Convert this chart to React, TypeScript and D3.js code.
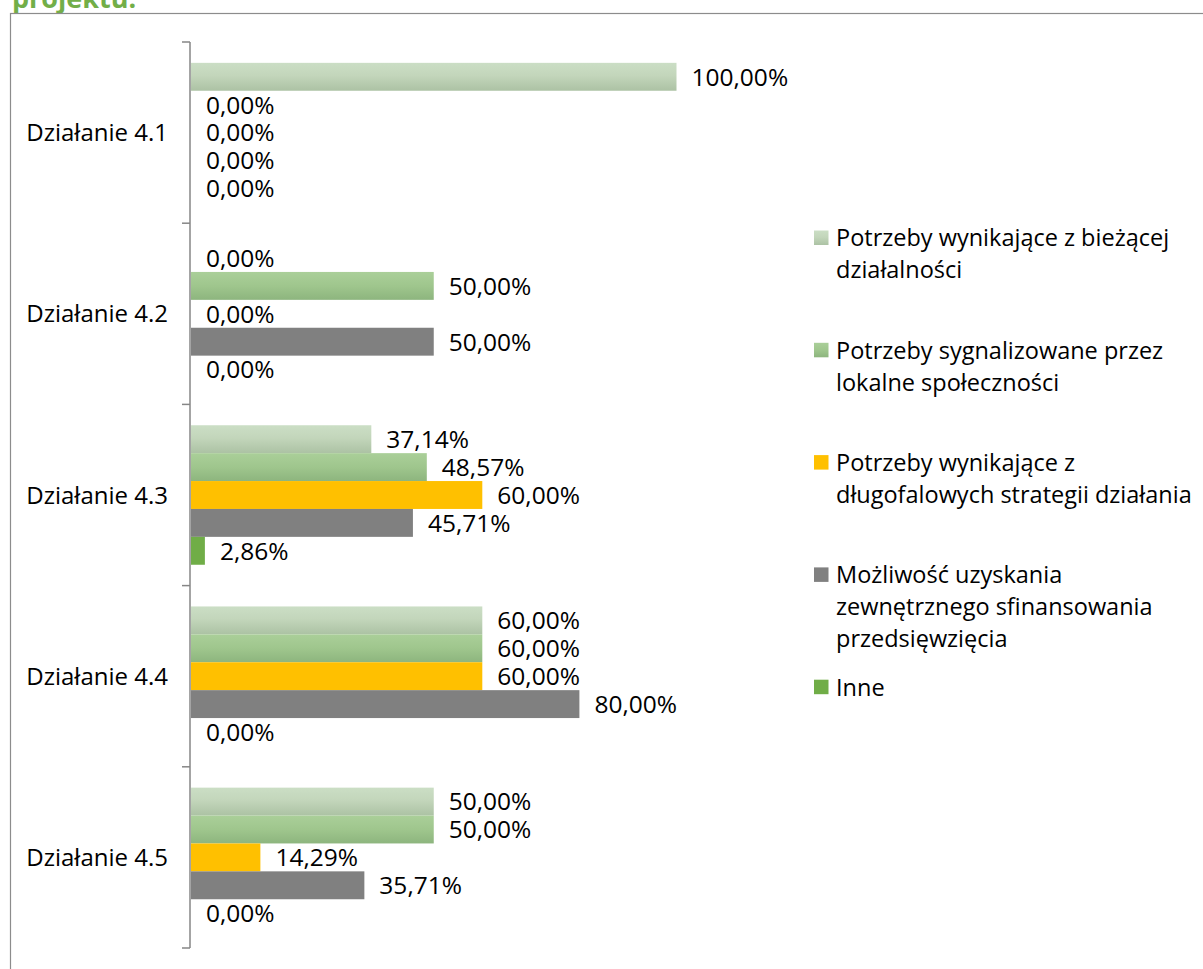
import React from 'react';
import * as d3 from 'd3';

const categories = ['Działanie 4.1', 'Działanie 4.2', 'Działanie 4.3', 'Działanie 4.4', 'Działanie 4.5'];

const seriesNames = [
  ['Potrzeby wynikające z bieżącej', 'działalności'],
  ['Potrzeby sygnalizowane przez', 'lokalne społeczności'],
  ['Potrzeby wynikające z', 'długofalowych strategii działania'],
  ['Możliwość uzyskania', 'zewnętrznego sfinansowania', 'przedsięwzięcia'],
  ['Inne'],
];

// values per series, in category order (percent)
const biezace = [100, 0, 37.14, 60, 50];
const lokalne = [0, 50, 48.57, 60, 50];
const strategie = [0, 0, 60, 60, 14.29];
const zewnetrzne = [0, 50, 45.71, 80, 35.71];
const inne = [0, 0, 2.86, 0, 0];

const seriesValues = [biezace, lokalne, strategie, zewnetrzne, inne];
const fills = ['url(#g-light)', 'url(#g-mid)', '#FFC000', '#808080', '#70AD47'];

const FONT = '"Open Sans", sans-serif';

export default function App() {
  const width = 1203;
  const height = 969;

  const y = d3.scaleBand<string>().domain(categories).range([42, 948]);
  const inner = d3
    .scaleBand<number>()
    .domain(d3.range(seriesValues.length))
    .range([0, y.bandwidth()])
    .paddingOuter(0.747);
  const x = d3.scaleLinear().domain([0, 100]).range([190, 675.5]);

  const fmt = (v: number) => v.toFixed(2).replace('.', ',') + '%';
  const boundaries = [...categories.map((c) => y(c)!), 948];

  return (
    <svg
      width={width}
      height={height}
      style={{ position: 'absolute', left: 0, top: 0, background: '#fff' }}
      fontFamily={FONT}
    >
      <defs>
        <linearGradient id="g-light" x1="0" y1="0" x2="0" y2="1">
          <stop offset="0%" stopColor="#CBDEC5" />
          <stop offset="45%" stopColor="#C3D6BB" />
          <stop offset="100%" stopColor="#ACC2A4" />
        </linearGradient>
        <linearGradient id="g-mid" x1="0" y1="0" x2="0" y2="1">
          <stop offset="0%" stopColor="#AACF99" />
          <stop offset="50%" stopColor="#9FC68D" />
          <stop offset="100%" stopColor="#8DB57E" />
        </linearGradient>
      </defs>

      {/* heading of the page above, partly hidden behind the chart frame */}
      <text x={12} y={8} fontSize={27} fontWeight="bold" fill="#72AE48">
        projektu.
      </text>
      <rect x={10.5} y={13.5} width={1200} height={970} fill="#fff" stroke="#8C8C8C" strokeWidth={1.2} />

      {seriesValues.map((vals, si) =>
        categories.map((c, ci) => {
          const v = vals[ci];
          const by = y(c)! + inner(si)!;
          const bh = inner.bandwidth();
          return (
            <g key={`${si}-${ci}`}>
              {v > 0 && (
                <rect x={x(0) + 1} y={by} width={x(v) - x(0)} height={bh} fill={fills[si]} />
              )}
              <text x={x(v) + 16} y={by + bh / 2} dy="0.36em" fontSize={24.5} fill="#000">
                {fmt(v)}
              </text>
            </g>
          );
        })
      )}

      <g stroke="#868686" strokeWidth={1.5}>
        <line x1={190} x2={190} y1={42} y2={948} />
        {boundaries.map((b, i) => (
          <line key={i} x1={182} x2={190} y1={b} y2={b} />
        ))}
      </g>

      {categories.map((c) => (
        <text key={c} x={168} y={y(c)! + y.bandwidth() / 2} dy="0.36em" textAnchor="end" fontSize={24}>
          {c}
        </text>
      ))}

      {seriesNames.map((lines, i) => {
        const top = 238 + i * 112.3;
        return (
          <g key={i}>
            <rect x={814} y={top - 7.5} width={14.5} height={14.5} fill={fills[i]} />
            {lines.map((l, li) => (
              <text key={li} x={836} y={top + li * 32} dy="0.36em" fontSize={23.5}>
                {l}
              </text>
            ))}
          </g>
        );
      })}
    </svg>
  );
}
